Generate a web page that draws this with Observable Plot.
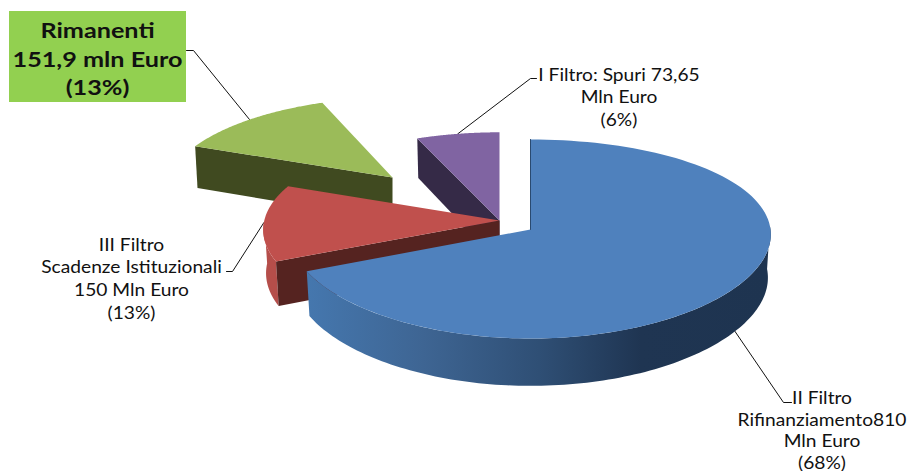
<!DOCTYPE html>
<html>
<head>
<meta charset="utf-8">
<script src="https://cdn.jsdelivr.net/npm/d3@7"></script>
<script src="https://cdn.jsdelivr.net/npm/@observablehq/plot@0.6"></script>
<style>
  html, body { margin: 0; padding: 0; background: #fff; }
  svg { display: block; }
</style>
</head>
<body>
<div id="chart"></div>
<script>
// Destination of the funds, in millions of euro
const names = ["II Filtro", "III Filtro", "Rimanenti", "I Filtro"];
const values = [810, 150, 151.9, 73.65];
const captions = [
  "II Filtro\nRifinanziamento810\nMln Euro\n(68%)",
  "III Filtro\nScadenze Istituzionali\n150 Mln Euro\n(13%)",
  "Rimanenti\n151,9 mln Euro\n(13%)",
  "I Filtro: Spuri 73,65\nMln Euro\n(6%)"
];

// Pie projection: ellipse radii and perspective strength
const RX = 240, RY = 98.6, PERSPECTIVE = 0.0955;
const DEPTH = 43;

// Exploded position, radius and perspective distortion of each slice, in page pixels
const apexX = [530, 499, 392, 499];
const apexY = [229, 220, 177, 220];
const radius = [1, 0.98, 0.93, 0.98];
const widthPerspective = [0.05, 0.0955, 0.0955, 0.0955];
const shear = [0, 0, -0.105, 0];
const squash = [1, 1, 0.96, 1];

const topColor = ["#4f81bd", "#c0504d", "#9bbb59", "#8064a2"];
const faceColor = ["#1f3552", "#552320", "#404a20", "#352a47"];

// Cumulative angles, clockwise from twelve o'clock
const total = d3.sum(values);
const bounds = [0, ...d3.cumsum(values).map(v => (v / total) * 360)];

// Projects an angle on a slice's rim onto the page
function rim(i, deg, lower = false) {
  const a = (deg * Math.PI) / 180;
  const X = Math.sin(a), Y = -Math.cos(a);
  const dy = RY * Y * radius[i] * squash[i] / (1 - PERSPECTIVE * Y);
  const dx = (RX * X * radius[i]) / (1 - widthPerspective[i] * Y) + shear[i] * dy;
  return lower
    ? { x: apexX[i] + dx * 0.988, y: apexY[i] + dy * 1.04 + DEPTH }
    : { x: apexX[i] + dx, y: apexY[i] + dy };
}
const apex = (i, lower = false) => ({ x: apexX[i], y: apexY[i] + (lower ? DEPTH : 0) });
const arc = (i, a0, a1, lower = false) =>
  d3.range(0, 121).map(k => rim(i, a0 + ((a1 - a0) * k) / 120, lower));

const wedge = i => [apex(i), ...arc(i, bounds[i], bounds[i + 1]), apex(i)];
// Radial cut face seen at the end of a slice
const cutFace = (i, deg) => [apex(i), rim(i, deg), rim(i, deg, true), apex(i, true)];
// Outer wall between two angles, ending where the rim turns away from view
const wall = (i, a0, a1) => [...arc(i, a0, a1), ...arc(i, a1, a0, true)];

const polygon = (points, fill) =>
  Plot.line(points, { x: "x", y: "y", fill, stroke: "none", curve: "linear" });

// Leader lines run from the middle of each slice's rim to the caption elbow
const midAngle = i => (bounds[i] + bounds[i + 1]) / 2;
const leaderEnds = [
  [{ x: 783, y: 402 }, { x: 791, y: 402 }],
  [{ x: 232, y: 271 }, { x: 226, y: 271 }],
  [{ x: 193, y: 50 }, { x: 186, y: 50 }],
  [{ x: 530, y: 78 }, { x: 536, y: 78 }]
];
const leaderStart = [rim(0, midAngle(0), true), rim(1, midAngle(1)), rim(2, midAngle(2)), rim(3, midAngle(3))];
const leader = i =>
  Plot.line([leaderStart[i], ...leaderEnds[i]], { x: "x", y: "y", stroke: "#111", strokeWidth: 1, curve: "linear" });

// Shading of the large slice's outer wall, light on the left and dark on the right
const wallShade = () => {
  const defs = d3.create("svg:defs");
  const g = defs.append("linearGradient")
    .attr("id", "wall-shade").attr("gradientUnits", "userSpaceOnUse")
    .attr("x1", 307).attr("x2", 770).attr("y1", 0).attr("y2", 0);
  [[0, "#4577ae"], [0.25, "#3e6593"], [0.5, "#2f4f75"], [0.72, "#1f3552"], [1, "#1e3450"]].forEach(([o, c]) =>
    g.append("stop").attr("offset", o).attr("stop-color", c));
  return defs.node();
};

const textStyle = { fontFamily: "Lato, sans-serif", fill: "#111", textAnchor: "middle", lineAnchor: "middle" };

const chart = Plot.plot({
  width: 910,
  height: 471,
  margin: 0,
  axis: null,
  x: { domain: [0, 910], range: [0, 910] },
  y: { domain: [0, 471], range: [0, 471] },
  marks: [
    wallShade,

    // Leaders sit beneath the slices
    leader(2), leader(3), leader(1), leader(0),

    // Back to front: green, purple, red, blue
    polygon(cutFace(2, bounds[2]), faceColor[2]),
    polygon(wedge(2), topColor[2]),

    polygon(cutFace(3, bounds[3]), faceColor[3]),
    polygon(wedge(3), topColor[3]),

    polygon(wall(1, bounds[1], 270), "#b54e4a"),
    polygon(cutFace(1, bounds[1]), faceColor[1]),
    polygon(wedge(1), topColor[1]),

    polygon(wall(0, 88, bounds[1]), "url(#wall-shade)"),
    polygon(wedge(0), topColor[0]),
    Plot.line([rim(0, 0), apex(0)], { x: "x", y: "y", stroke: "#2a4a70", strokeWidth: 1, curve: "linear" }),

    // Highlighted caption box
    Plot.rect([captions[2]], { x1: 9, x2: 186, y1: 11, y2: 102, fill: "#92d050" }),

    Plot.text([captions[0]], { ...textStyle, text: d => d, x: 821.5, y: 429, fontSize: 17, lineHeight: 1.28 }),
    Plot.text([captions[1]], { ...textStyle, text: d => d, x: 131, y: 277, fontSize: 17, lineHeight: 1.33 }),
    Plot.text([captions[2]], { ...textStyle, text: d => d, x: 97, y: 57, fontSize: 21, fontWeight: "bold", lineHeight: 1.36 }),
    Plot.text([captions[3]], { ...textStyle, text: d => d, x: 618.5, y: 95.5, fontSize: 17, lineHeight: 1.32 })
  ]
});

// Captions use a slightly widened typeface
chart.querySelectorAll("text").forEach(t => {
  const widen = t.getAttribute("font-weight") === "bold" || t.parentNode.getAttribute("font-weight") === "bold" ? 1.2 : 1.13;
  t.setAttribute("transform", `${t.getAttribute("transform") || ""} scale(${widen},1)`.trim());
});
document.getElementById("chart").append(chart);
</script>
</body>
</html>
